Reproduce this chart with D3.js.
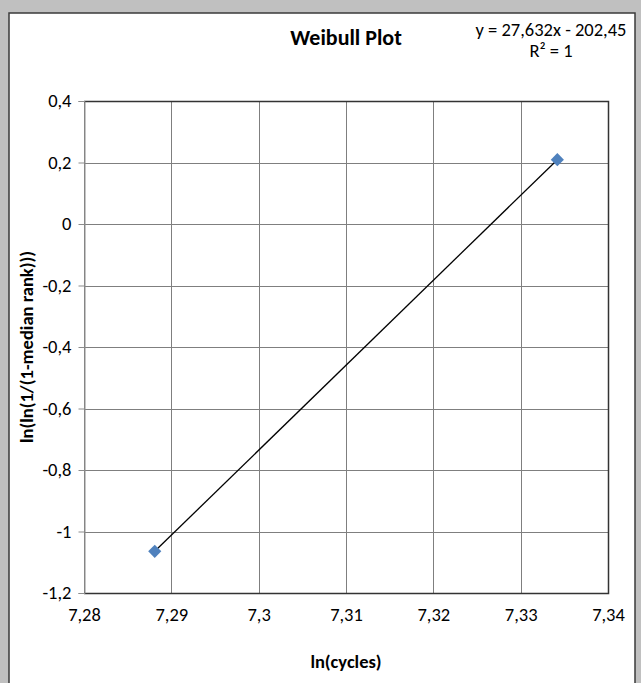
<!DOCTYPE html>
<html>
<head>
<meta charset="utf-8">
<script src="https://d3js.org/d3.v7.min.js"></script>
<style>
  body { margin: 0; background: #c0c0c0; }
  svg { display: block; }
</style>
</head>
<body>
<svg width="641" height="683"></svg>
<script>
// data
var lnCycles = [7.2881, 7.3342];
var lnRank = [-1.0645, 0.2092];
var xTicks = [7.28, 7.29, 7.30, 7.31, 7.32, 7.33, 7.34];
var yTicks = [0.4, 0.2, 0, -0.2, -0.4, -0.6, -0.8, -1, -1.2];
var eqLines = ["y = 27,632x - 202,45", "R² = 1"];

var font = "Carlito, Calibri, Lato, 'Open Sans', sans-serif";

var svg = d3.select("svg");

// chart frame
svg.append("rect")
   .attr("x", 9).attr("y", 13)
   .attr("width", 626).attr("height", 680)
   .attr("fill", "#ffffff")
   .attr("stroke", "#3a3a3a")
   .attr("stroke-width", 1.5);

var plotL = 84, plotR = 608, plotT = 101, plotB = 593;

var x = d3.scaleLinear().domain([7.28, 7.34]).range([plotL, plotR]);
var y = d3.scaleLinear().domain([-1.2, 0.4]).range([plotB, plotT]);

function fmt(d) {
  return String(+d.toFixed(2)).replace(".", ",");
}

// gridlines
svg.append("g")
   .selectAll("line")
   .data(yTicks)
   .enter()
   .append("line")
   .attr("x1", plotL).attr("x2", plotR)
   .attr("y1", function (d) { return Math.round(y(d)) + 0.5; })
   .attr("y2", function (d) { return Math.round(y(d)) + 0.5; })
   .attr("stroke", "#7f7f7f")
   .attr("stroke-width", 1);

svg.append("g")
   .selectAll("line")
   .data(xTicks)
   .enter()
   .append("line")
   .attr("y1", plotT).attr("y2", plotB)
   .attr("x1", function (d) { return Math.round(x(d)) + 0.5; })
   .attr("x2", function (d) { return Math.round(x(d)) + 0.5; })
   .attr("stroke", "#7f7f7f")
   .attr("stroke-width", 1);

// plot edges
svg.append("path")
   .attr("d", "M" + plotL + "," + (plotT + 0.5) + "H" + (plotR + 0.5) + "V" + (plotB + 0.5) + "H" + plotL)
   .attr("fill", "none")
   .attr("stroke", "#333")
   .attr("stroke-width", 1.5);

// y axis
var yAxis = svg.append("g")
   .attr("transform", "translate(" + (plotL + 0.5) + ",0)")
   .call(d3.axisLeft(y).tickValues(yTicks).tickSize(6).tickPadding(7).tickFormat(fmt));
yAxis.select(".domain").attr("stroke", "#8c8c8c");
yAxis.selectAll(".tick line").attr("stroke", "#8c8c8c");
yAxis.selectAll("text")
   .attr("font-family", font)
   .attr("font-size", "18.5px")
   .attr("fill", "#000");

// x axis
var xAxis = svg.append("g")
   .attr("transform", "translate(0," + (plotB + 0.5) + ")")
   .call(d3.axisBottom(x).tickValues(xTicks).tickSize(0).tickPadding(14).tickFormat(fmt));
xAxis.select(".domain").remove();
xAxis.selectAll("text")
   .attr("font-family", font)
   .attr("font-size", "18.5px")
   .attr("fill", "#000");

// trendline
svg.append("line")
   .attr("x1", x(lnCycles[0])).attr("y1", y(lnRank[0]))
   .attr("x2", x(lnCycles[1])).attr("y2", y(lnRank[1]))
   .attr("stroke", "#000")
   .attr("stroke-width", 1.3);

// markers
svg.append("g")
   .selectAll("path")
   .data(d3.zip(lnCycles, lnRank))
   .enter()
   .append("path")
   .attr("transform", function (d) { return "translate(" + x(d[0]) + "," + y(d[1]) + ")"; })
   .attr("d", d3.symbol().type(d3.symbolDiamond2).size(110))
   .attr("fill", "#4f81bd");

// titles
svg.append("text")
   .attr("x", 346).attr("y", 45)
   .attr("text-anchor", "middle")
   .attr("font-family", font)
   .attr("font-weight", "bold")
   .attr("font-size", "22px")
   .text("Weibull Plot");

svg.append("text")
   .attr("x", 346).attr("y", 668)
   .attr("text-anchor", "middle")
   .attr("font-family", font)
   .attr("font-weight", "bold")
   .attr("font-size", "18.5px")
   .text("ln(cycles)");

svg.append("text")
   .attr("transform", "translate(33,347) rotate(-90)")
   .attr("text-anchor", "middle")
   .attr("font-family", font)
   .attr("font-weight", "bold")
   .attr("font-size", "18.5px")
   .text("ln(ln(1/(1-median rank)))");

svg.append("g")
   .selectAll("text")
   .data(eqLines)
   .enter()
   .append("text")
   .attr("x", 551)
   .attr("y", function (d, i) { return 36 + i * 21; })
   .attr("text-anchor", "middle")
   .attr("font-family", font)
   .attr("font-size", "18.5px")
   .text(function (d) { return d; });
</script>
</body>
</html>
